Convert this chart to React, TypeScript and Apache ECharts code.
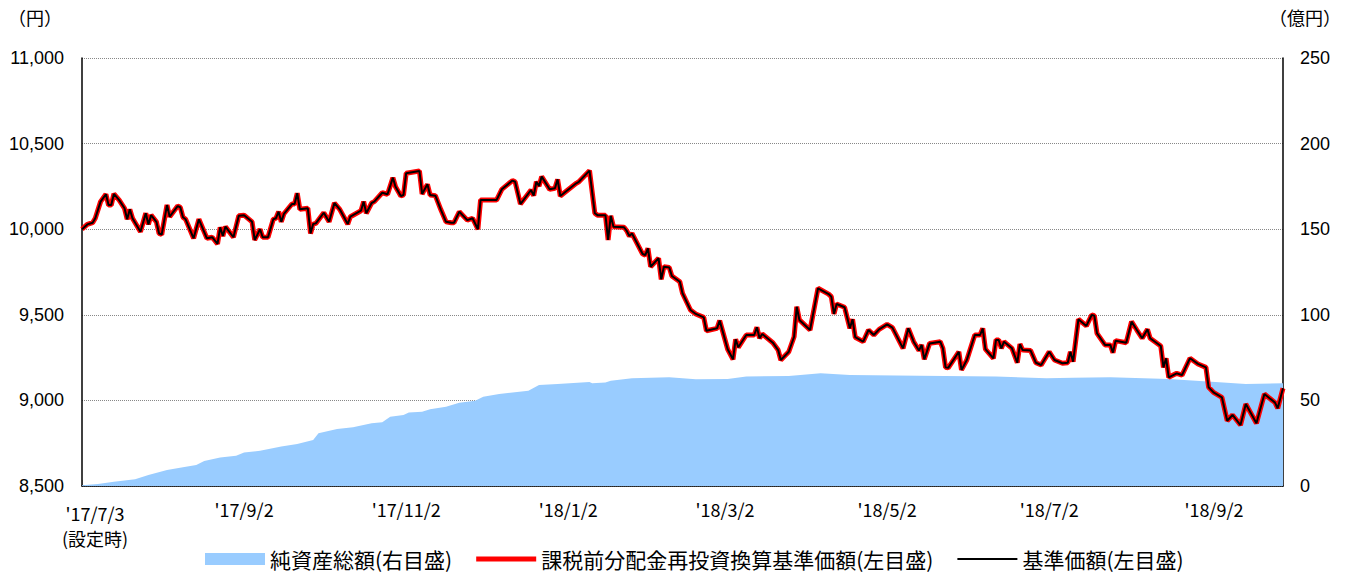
import React, { useEffect, useRef } from "react";
import * as echarts from "echarts";

// Calendar range of the x axis (one category per calendar day)
const startDate = "2017-07-03";
const endDate = "2018-09-28";

// Labelled ticks on the x axis
const xTickDates = [
  "2017-07-03", "2017-09-02", "2017-11-02", "2018-01-02",
  "2018-03-02", "2018-05-02", "2018-07-02", "2018-09-02",
];
const xTickLabels = [
  "'17/7/3", "'17/9/2", "'17/11/2", "'18/1/2",
  "'18/3/2", "'18/5/2", "'18/7/2", "'18/9/2",
];

// Series names
const nameAssets = "純資産総額(右目盛)";
const nameReinvest = "課税前分配金再投資換算基準価額(左目盛)";
const nameNav = "基準価額(左目盛)";

// 基準価額 (円)
const navPoints: [string, number][] = [
  ["2017-07-03", 10000], ["2017-07-05", 10028], ["2017-07-07", 10038], ["2017-07-08", 10064],
  ["2017-07-10", 10161], ["2017-07-12", 10204], ["2017-07-13", 10141], ["2017-07-14", 10141],
  ["2017-07-15", 10206], ["2017-07-17", 10170], ["2017-07-19", 10122], ["2017-07-20", 10058],
  ["2017-07-21", 10116], ["2017-07-22", 10064], ["2017-07-25", 9985], ["2017-07-27", 10093],
  ["2017-07-28", 10028], ["2017-07-29", 10082], ["2017-07-31", 10043], ["2017-08-01", 9975],
  ["2017-08-02", 9969], ["2017-08-04", 10141], ["2017-08-05", 10073], ["2017-08-08", 10135],
  ["2017-08-09", 10128], ["2017-08-10", 10070], ["2017-08-11", 10058], ["2017-08-14", 9947],
  ["2017-08-16", 10058], ["2017-08-19", 9947], ["2017-08-21", 9953], ["2017-08-23", 9914],
  ["2017-08-24", 10011], ["2017-08-25", 9960], ["2017-08-26", 10015], ["2017-08-29", 9953],
  ["2017-08-31", 10078], ["2017-09-02", 10082], ["2017-09-05", 10043], ["2017-09-06", 9937],
  ["2017-09-08", 10000], ["2017-09-09", 9953], ["2017-09-11", 9953], ["2017-09-13", 10058],
  ["2017-09-14", 10064], ["2017-09-15", 10102], ["2017-09-16", 10043], ["2017-09-17", 10090],
  ["2017-09-20", 10147], ["2017-09-21", 10147], ["2017-09-22", 10210], ["2017-09-23", 10116],
  ["2017-09-26", 10122], ["2017-09-27", 9975], ["2017-09-28", 10030], ["2017-09-29", 10034],
  ["2017-10-02", 10096], ["2017-10-04", 10043], ["2017-10-06", 10153], ["2017-10-08", 10116],
  ["2017-10-11", 10030], ["2017-10-12", 10073], ["2017-10-16", 10108], ["2017-10-17", 10161],
  ["2017-10-18", 10093], ["2017-10-20", 10153], ["2017-10-21", 10161], ["2017-10-24", 10213],
  ["2017-10-26", 10204], ["2017-10-28", 10301], ["2017-10-29", 10248], ["2017-10-31", 10194],
  ["2017-11-01", 10200], ["2017-11-02", 10327], ["2017-11-07", 10340], ["2017-11-08", 10206],
  ["2017-11-10", 10262], ["2017-11-11", 10200], ["2017-11-13", 10196], ["2017-11-15", 10116],
  ["2017-11-17", 10043], ["2017-11-19", 10038], ["2017-11-20", 10038], ["2017-11-22", 10102],
  ["2017-11-25", 10053], ["2017-11-27", 10064], ["2017-11-29", 10000], ["2017-11-30", 10170],
  ["2017-12-04", 10170], ["2017-12-06", 10170], ["2017-12-08", 10233], ["2017-12-12", 10284],
  ["2017-12-13", 10277], ["2017-12-15", 10147], ["2017-12-19", 10229], ["2017-12-20", 10196],
  ["2017-12-21", 10277], ["2017-12-22", 10252], ["2017-12-23", 10307], ["2017-12-26", 10233],
  ["2017-12-28", 10239], ["2017-12-29", 10291], ["2017-12-30", 10194], ["2018-01-05", 10268],
  ["2018-01-06", 10277], ["2018-01-10", 10342], ["2018-01-12", 10093], ["2018-01-13", 10082],
  ["2018-01-16", 10082], ["2018-01-17", 9937], ["2018-01-18", 10078], ["2018-01-19", 10015],
  ["2018-01-23", 10011], ["2018-01-24", 9991], ["2018-01-25", 9960], ["2018-01-26", 9975],
  ["2018-01-30", 9855], ["2018-01-31", 9849], ["2018-02-01", 9888], ["2018-02-02", 9781],
  ["2018-02-05", 9830], ["2018-02-06", 9707], ["2018-02-07", 9781], ["2018-02-09", 9777],
  ["2018-02-10", 9727], ["2018-02-13", 9693], ["2018-02-14", 9626], ["2018-02-17", 9528],
  ["2018-02-19", 9505], ["2018-02-22", 9485], ["2018-02-23", 9407], ["2018-02-27", 9421],
  ["2018-02-28", 9466], ["2018-03-03", 9299], ["2018-03-05", 9240], ["2018-03-06", 9357],
  ["2018-03-07", 9310], ["2018-03-10", 9382], ["2018-03-13", 9382], ["2018-03-14", 9427],
  ["2018-03-15", 9363], ["2018-03-16", 9388], ["2018-03-20", 9337], ["2018-03-22", 9294],
  ["2018-03-23", 9236], ["2018-03-26", 9284], ["2018-03-28", 9372], ["2018-03-29", 9547],
  ["2018-03-30", 9470], ["2018-04-03", 9411], ["2018-04-06", 9655], ["2018-04-10", 9621],
  ["2018-04-11", 9606], ["2018-04-12", 9505], ["2018-04-13", 9563], ["2018-04-16", 9544],
  ["2018-04-18", 9421], ["2018-04-19", 9474], ["2018-04-20", 9369], ["2018-04-23", 9343],
  ["2018-04-25", 9411], ["2018-04-27", 9382], ["2018-04-29", 9415], ["2018-05-02", 9444],
  ["2018-05-04", 9425], ["2018-05-08", 9304], ["2018-05-10", 9421], ["2018-05-12", 9343],
  ["2018-05-14", 9291], ["2018-05-15", 9324], ["2018-05-16", 9240], ["2018-05-18", 9333],
  ["2018-05-22", 9343], ["2018-05-23", 9304], ["2018-05-24", 9193], ["2018-05-25", 9190],
  ["2018-05-29", 9284], ["2018-05-30", 9178], ["2018-06-01", 9236], ["2018-06-04", 9382],
  ["2018-06-06", 9382], ["2018-06-07", 9421], ["2018-06-08", 9299], ["2018-06-11", 9246],
  ["2018-06-12", 9353], ["2018-06-13", 9353], ["2018-06-14", 9304], ["2018-06-15", 9343],
  ["2018-06-18", 9304], ["2018-06-20", 9220], ["2018-06-21", 9329], ["2018-06-22", 9294],
  ["2018-06-25", 9291], ["2018-06-27", 9220], ["2018-06-29", 9207], ["2018-07-02", 9284],
  ["2018-07-04", 9236], ["2018-07-07", 9217], ["2018-07-09", 9220], ["2018-07-10", 9284],
  ["2018-07-11", 9226], ["2018-07-13", 9474], ["2018-07-16", 9435], ["2018-07-18", 9499],
  ["2018-07-19", 9495], ["2018-07-20", 9392], ["2018-07-23", 9324], ["2018-07-25", 9324],
  ["2018-07-26", 9279], ["2018-07-27", 9349], ["2018-07-31", 9337], ["2018-08-02", 9460],
  ["2018-08-04", 9411], ["2018-08-06", 9363], ["2018-08-08", 9415], ["2018-08-09", 9363],
  ["2018-08-13", 9318], ["2018-08-14", 9193], ["2018-08-15", 9246], ["2018-08-16", 9135],
  ["2018-08-19", 9158], ["2018-08-21", 9148], ["2018-08-24", 9246], ["2018-08-27", 9213],
  ["2018-08-30", 9193], ["2018-08-31", 9077], ["2018-09-02", 9045], ["2018-09-05", 9018],
  ["2018-09-07", 8881], ["2018-09-09", 8915], ["2018-09-12", 8856], ["2018-09-14", 8979],
  ["2018-09-18", 8866], ["2018-09-21", 9037], ["2018-09-25", 8987], ["2018-09-26", 8954],
  ["2018-09-28", 9071],
];

// 課税前分配金再投資換算基準価額 — in the chart it lies exactly on the 基準価額 line
const reinvestPoints: [string, number][] = navPoints;

// 純資産総額 (億円)
const assetPoints: [string, number][] = [
  ["2017-07-03", 0.4], ["2017-07-09", 1.2], ["2017-07-15", 2.5], ["2017-07-23", 3.9],
  ["2017-07-28", 6.4], ["2017-08-04", 9.3], ["2017-08-10", 10.9], ["2017-08-15", 12.3],
  ["2017-08-18", 14.6], ["2017-08-24", 16.7], ["2017-08-30", 17.7], ["2017-09-02", 19.5],
  ["2017-09-08", 20.6], ["2017-09-16", 23], ["2017-09-22", 24.5], ["2017-09-28", 26.9],
  ["2017-09-30", 30.8], ["2017-10-07", 33.3], ["2017-10-13", 34.3], ["2017-10-20", 36.6],
  ["2017-10-24", 37.2], ["2017-10-27", 40.5], ["2017-11-01", 41.5], ["2017-11-03", 43],
  ["2017-11-08", 43.4], ["2017-11-11", 44.8], ["2017-11-17", 46.3], ["2017-11-22", 48.7],
  ["2017-11-28", 49.8], ["2017-12-01", 52.2], ["2017-12-07", 53.7], ["2017-12-18", 55.7],
  ["2017-12-22", 59], ["2017-12-29", 59.6], ["2018-01-10", 60.7], ["2018-01-11", 60],
  ["2018-01-16", 60.4], ["2018-01-18", 61.5], ["2018-01-26", 62.9], ["2018-02-09", 63.5],
  ["2018-02-19", 62.3], ["2018-03-03", 62.5], ["2018-03-10", 63.9], ["2018-03-26", 64.3],
  ["2018-04-07", 65.8], ["2018-04-18", 64.8], ["2018-05-14", 64.4], ["2018-06-12", 63.9],
  ["2018-07-01", 62.9], ["2018-07-11", 63.3], ["2018-07-25", 63.5], ["2018-08-16", 62.5],
  ["2018-09-04", 60.6], ["2018-09-14", 59.6], ["2018-09-28", 60],
];

function buildDates(start: string, end: string): string[] {
  const out: string[] = [];
  const [sy, sm, sd] = start.split("-").map(Number);
  const [ey, em, ed] = end.split("-").map(Number);
  let t = Date.UTC(sy, sm - 1, sd);
  const stop = Date.UTC(ey, em - 1, ed);
  while (t <= stop) {
    const d = new Date(t);
    const s =
      d.getUTCFullYear() + "-" +
      String(d.getUTCMonth() + 1).padStart(2, "0") + "-" +
      String(d.getUTCDate()).padStart(2, "0");
    out.push(s);
    t += 86400000;
  }
  return out;
}

function align(dates: string[], points: [string, number][]): (number | null)[] {
  const m = new Map(points);
  return dates.map((d) => (m.has(d) ? (m.get(d) as number) : null));
}

const FONT = "'Liberation Sans', 'Noto Sans CJK JP', sans-serif";
const FONT_JP = "'Noto Sans CJK JP', 'Liberation Sans', sans-serif";

export default function App() {
  const ref = useRef<HTMLDivElement>(null);

  useEffect(() => {
    if (!ref.current) return;
    const chart = echarts.init(ref.current, undefined, { renderer: "svg" });
    const dates = buildDates(startDate, endDate);
    const tickSet = new Set(xTickDates);
    const showTick = (_i: number, v: string) => tickSet.has(v);

    chart.setOption({
      animation: false,
      textStyle: { fontFamily: FONT, color: "#000" },
      grid: { left: 82, right: 64, top: 58, bottom: 89, containLabel: false },
      legend: {
        left: 205,
        top: 548,
        padding: 0,
        itemWidth: 60,
        itemHeight: 12,
        itemGap: 24,
        textStyle: { fontFamily: FONT_JP, fontSize: 21, lineHeight: 22, color: "#000" },
        data: [
          { name: nameAssets, icon: "rect", itemStyle: { color: "#99CCFF" } },
          { name: nameReinvest, icon: "path://M0,0H60V5H0Z", itemStyle: { color: "#FF0000" } },
          { name: nameNav, icon: "path://M0,0H56V2H0Z", itemStyle: { color: "#000" } },
        ],
      },
      graphic: [
        {
          type: "text",
          left: 8,
          top: 8,
          style: { text: "（円）", fontSize: 18, fill: "#000", fontFamily: FONT_JP },
        },
        {
          type: "text",
          right: 6,
          top: 8,
          style: { text: "（億円）", fontSize: 18, fill: "#000", fontFamily: FONT_JP },
        },
      ],
      xAxis: {
        type: "category",
        data: dates,
        boundaryGap: false,
        axisLine: { lineStyle: { color: "#000", width: 1.5 } },
        axisTick: {
          show: true,
          inside: true,
          length: 6,
          interval: showTick,
          lineStyle: { color: "#333" },
        },
        axisLabel: {
          interval: showTick,
          margin: 14,
          fontFamily: FONT_JP,
          fontSize: 18,
          color: "#000",
          formatter: (v: string) => {
            const i = xTickDates.indexOf(v);
            if (i === 0) return "{first|" + xTickLabels[0] + "}\n{first|(設定時)}";
            return i >= 0 ? xTickLabels[i] : "";
          },
          rich: {
            first: { fontFamily: FONT_JP, fontSize: 18, lineHeight: 25, padding: [0, 0, 0, 26], color: "#000" },
          },
        },
        splitLine: { show: false },
      },
      yAxis: [
        {
          type: "value",
          min: 8500,
          max: 11000,
          interval: 500,
          position: "left",
          axisLine: { show: true, lineStyle: { color: "#000", width: 1.5 } },
          axisTick: { show: false },
          axisLabel: {
            margin: 18,
            fontSize: 18,
            color: "#000",
            fontFamily: FONT,
            formatter: (v: number) => v.toLocaleString("en-US"),
          },
          splitLine: { show: true, lineStyle: { color: "#888", type: "dotted", width: 1 } },
        },
        {
          type: "value",
          min: 0,
          max: 250,
          interval: 50,
          position: "right",
          axisLine: { show: true, lineStyle: { color: "#000", width: 1.5 } },
          axisTick: { show: false },
          axisLabel: { margin: 17, fontSize: 18, color: "#000", fontFamily: FONT },
          splitLine: { show: false },
        },
      ],
      series: [
        {
          name: nameAssets,
          type: "line",
          yAxisIndex: 1,
          data: align(dates, assetPoints),
          connectNulls: true,
          symbol: "none",
          showSymbol: false,
          lineStyle: { width: 0, color: "#99CCFF" },
          itemStyle: { color: "#99CCFF" },
          areaStyle: { color: "#99CCFF", opacity: 1 },
          z: 1,
        },
        {
          name: nameReinvest,
          type: "line",
          yAxisIndex: 0,
          data: align(dates, reinvestPoints),
          connectNulls: true,
          symbol: "none",
          showSymbol: false,
          lineStyle: { width: 5, color: "#FF0000" },
          itemStyle: { color: "#FF0000" },
          z: 2,
        },
        {
          name: nameNav,
          type: "line",
          yAxisIndex: 0,
          data: align(dates, navPoints),
          connectNulls: true,
          symbol: "none",
          showSymbol: false,
          lineStyle: { width: 2, color: "#000" },
          itemStyle: { color: "#000" },
          z: 3,
        },
      ],
    });

    return () => chart.dispose();
  }, []);

  return (
    <div
      ref={ref}
      style={{ position: "absolute", left: 0, top: 0, width: 1347, height: 575 }}
    />
  );
}
